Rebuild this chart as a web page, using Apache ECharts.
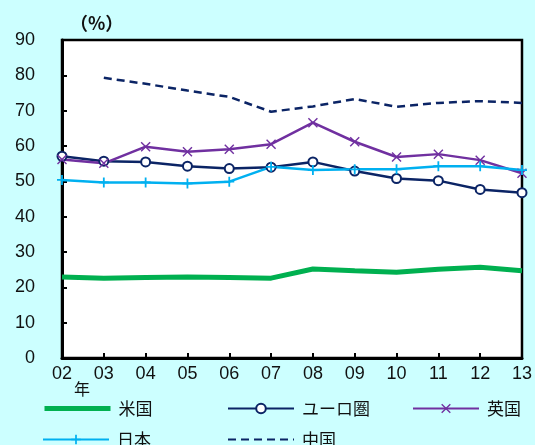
<!DOCTYPE html>
<html>
<head>
<meta charset="utf-8">
<script src="https://cdn.jsdelivr.net/npm/echarts@6/dist/echarts.min.js"></script>
<style>
html,body{margin:0;padding:0;background:#ccffff;}
#c{width:535px;height:445px;}
</style>
</head>
<body>
<div id="c"></div>
<script>
var categories = ['02','03','04','05','06','07','08','09','10','11','12','13'];
var yTicks = [0,10,20,30,40,50,60,70,80,90];
var usData    = [22.9,22.6,22.8,22.9,22.8,22.6,25.2,24.7,24.3,25.1,25.7,24.7];
var euroData  = [57.1,55.7,55.5,54.3,53.6,54.0,55.5,52.9,50.8,50.2,47.7,46.8];
var ukData    = [56.2,55.1,59.8,58.4,59.1,60.5,66.6,61.2,56.9,57.7,56.0,52.3];
var japanData = [50.4,49.7,49.7,49.4,49.9,54.1,53.2,53.4,53.4,54.3,54.3,53.2];
var chinaData = ['-',79.3,77.6,75.7,73.9,69.7,71.2,73.3,71.1,72.2,72.7,72.2];
var names = ['米国','ユーロ圏','英国','日本','中国'];

var X_PATH = 'path://M1,0L5,4L9,0L10,1L6,5L10,9L9,10L5,6L1,10L0,9L4,5L0,1Z';
var PLUS_PATH = 'path://M4.1,0H5.9V4.1H10V5.9H5.9V10H4.1V5.9H0V4.1H4.1Z';
var txt = {color:'#111', fontSize:17, fontFamily:'"Noto Sans CJK JP", sans-serif', padding:[0,0,0,3]};
function leg(name, left, top, hideSymbol, lineStyle){
  var item = {name:name};
  if (hideSymbol) item.itemStyle = {opacity:0};
  if (lineStyle) item.lineStyle = lineStyle;
  return {data:[item], left:left, top:top, padding:0, itemWidth:66, itemHeight:12,
          textStyle:txt, selectedMode:false};
}
var chart = echarts.init(document.getElementById('c'));
chart.setOption({
  backgroundColor:'#ccffff',
  animation:false,
  grid:{left:62, right:10, top:40, bottom:87, show:true, backgroundColor:'#ffffff',
        borderColor:'#000', borderWidth:2.5},
  legend:[leg(names[0],42,400,true,{width:5, color:'#00b050'}), leg(names[1],227,400), leg(names[2],412,400),
          leg(names[3],42,431), leg(names[4],227,431,true)],
  graphic:[
    {type:'text', left:70, top:14, style:{text:'（%）', fontSize:18, fontWeight:'bold',
      fill:'#111', fontFamily:'"Noto Sans CJK JP", sans-serif'}},
    {type:'text', left:74, top:381, style:{text:'年', fontSize:16,
      fill:'#111', fontFamily:'"Noto Sans CJK JP", sans-serif'}}
  ],
  xAxis:{type:'category', data:categories, boundaryGap:false,
    axisLine:{lineStyle:{color:'#000', width:3}},
    axisTick:{inside:true, length:5, lineStyle:{color:'#000', width:2}},
    axisLabel:{interval:0, margin:7, color:'#111', fontSize:18, fontFamily:'"Liberation Sans", Arial, sans-serif'},
    splitLine:{show:false}},
  yAxis:{type:'value', min:yTicks[0], max:yTicks[yTicks.length-1], interval:10,
    axisLine:{show:true, lineStyle:{color:'#000', width:3}},
    axisTick:{show:true, inside:true, length:5, lineStyle:{color:'#000', width:2}},
    axisLabel:{margin:27, color:'#111', fontSize:18, fontFamily:'"Liberation Sans", Arial, sans-serif'},
    splitLine:{show:false}},
  series:[
    {name:names[0], type:'line', data:usData, showSymbol:false, symbol:'none',
      lineStyle:{color:'#00b050', width:5}, itemStyle:{color:'#00b050'}},
    {name:names[1], type:'line', data:euroData, symbol:'circle', symbolSize:9,
      lineStyle:{color:'#0b2465', width:2.5},
      itemStyle:{color:'#ffffff', borderColor:'#0b2465', borderWidth:2}},
    {name:names[2], type:'line', data:ukData, symbol:X_PATH, symbolSize:10,
      lineStyle:{color:'#7030a0', width:2.5}, itemStyle:{color:'#7030a0'}},
    {name:names[3], type:'line', data:japanData, symbol:PLUS_PATH, symbolSize:10,
      lineStyle:{color:'#00b0f0', width:2.5}, itemStyle:{color:'#00b0f0'}},
    {name:names[4], type:'line', data:chinaData, showSymbol:false, symbol:'none',
      lineStyle:{color:'#0b2465', width:2.5, type:[8,5]}, itemStyle:{color:'#0b2465'}}
  ]
});
</script>
</body>
</html>
